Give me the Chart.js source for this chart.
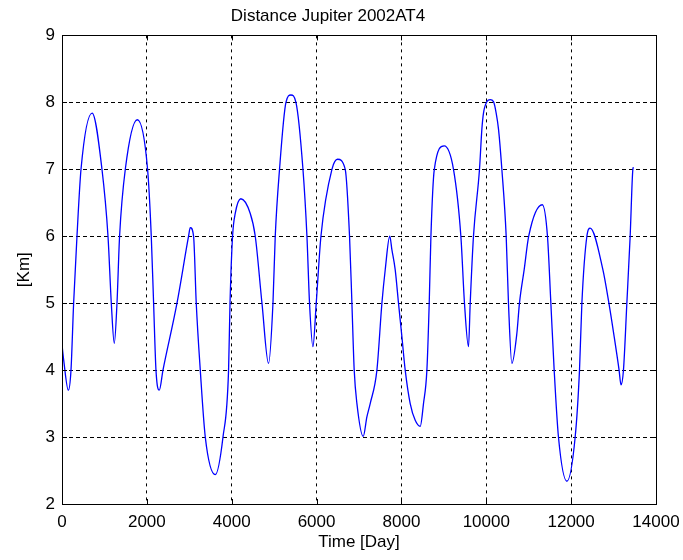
<!DOCTYPE html>
<html>
<head>
<meta charset="utf-8">
<script src="https://cdn.jsdelivr.net/npm/chart.js@4"></script>
<style>
  html, body { margin: 0; padding: 0; background: #fff; }
  #wrap { width: 683px; height: 560px; }
</style>
</head>
<body>
<div id="wrap"><canvas id="dist" width="683" height="560"></canvas></div>
<script>
// Distance samples: time in days, distance in the plotted unit
const days = [
  0, 40, 150, 212, 274, 353, 448, 710, 942, 1084, 1162, 1232,
  1296, 1357, 1492, 1775, 2017, 2104, 2159, 2215, 2292,
  2380, 2710, 2983, 3023, 3101, 3164, 3259, 3377, 3612,
  3794, 3926, 3960, 4020, 4083, 4215, 4437, 4555, 4713, 4868,
  4972, 5026, 5127, 5278, 5396, 5514, 5679, 5773, 5834, 5914,
  5992, 6103, 6362, 6494, 6675, 6777, 6833, 6887, 6951, 7100,
  7186, 7264, 7422, 7540, 7618, 7725, 7775, 7853, 7931, 8011, 8089, 8207, 8325, 8443,
  8520, 8600, 8655, 8695, 8775, 9008, 9227, 9401, 9486, 9581,
  9621, 9698, 9840, 9896, 9934, 10014, 10092, 10170, 10233, 10288, 10367, 10469, 10523, 10603,
  10721, 10782, 10893, 11000, 11320, 11442, 11522, 11600, 11701, 11900,
  12095, 12197, 12253, 12371, 12448, 12748, 12890, 13014, 13130, 13175,
  13233, 13313, 13391, 13455, 13469
];
const km = [
  4.38, 4.15, 3.7, 4.0, 5.0, 6.0, 7.0, 7.84, 7.0, 6.0, 5.0, 4.4,
  5.0, 6.0, 7.0, 7.74, 7.0, 6.0, 5.0, 4.0, 3.7,
  4.0, 5.0, 6.0, 6.13, 6.0, 5.0, 4.0, 3.0, 2.44,
  3.0, 4.0, 5.0, 6.0, 6.34, 6.56, 6.34, 6.0, 5.0, 4.1,
  5.0, 6.0, 7.0, 8.0, 8.11, 8.0, 7.0, 6.0, 5.0, 4.35,
  5.0, 6.0, 7.0, 7.15, 7.0, 6.0, 5.0, 4.0, 3.5, 3.01,
  3.3, 3.5, 4.0, 5.0, 5.5, 6.0, 5.8, 5.5, 5.0, 4.5, 4.0, 3.5, 3.25, 3.16,
  3.5, 4.0, 5.0, 6.0, 7.0, 7.35, 7.0, 6.0, 5.0, 4.35,
  5.0, 6.0, 7.0, 7.6, 7.84, 8.01, 8.04, 8.01, 7.84, 7.6, 7.0, 6.0, 5.0, 4.1,
  4.55, 5.0, 5.5, 6.0, 6.47, 6.0, 5.0, 4.0, 3.0, 2.34,
  3.0, 4.0, 5.0, 6.0, 6.12, 5.5, 5.0, 4.5, 4.0, 3.78,
  4.0, 5.0, 6.0, 7.0, 7.03
];

const xTicks = [0, 2000, 4000, 6000, 8000, 10000, 12000, 14000];
const yTicks = [2, 3, 4, 5, 6, 7, 8, 9];

const FONT = '"Liberation Sans", Arial, sans-serif';

// box around the axes plus short inward ticks on all four sides
const axesBox = {
  id: 'axesBox',
  afterDraw(chart) {
    const { ctx, chartArea: a, scales: { x, y } } = chart;
    const len = 5;
    ctx.save();
    ctx.strokeStyle = '#000';
    ctx.lineWidth = 1;
    ctx.setLineDash([]);
    ctx.beginPath();
    xTicks.forEach(v => {
      const px = Math.round(x.getPixelForValue(v)) + 0.5;
      ctx.moveTo(px, a.bottom); ctx.lineTo(px, a.bottom - len);
      ctx.moveTo(px, a.top); ctx.lineTo(px, a.top + len);
    });
    yTicks.forEach(v => {
      const py = Math.round(y.getPixelForValue(v)) + 0.5;
      ctx.moveTo(a.left, py); ctx.lineTo(a.left + len, py);
      ctx.moveTo(a.right, py); ctx.lineTo(a.right - len, py);
    });
    ctx.stroke();
    ctx.strokeRect(Math.round(a.left) + 0.5, Math.round(a.top) + 0.5,
      Math.round(a.right - a.left), Math.round(a.bottom - a.top));
    ctx.restore();
  }
};

new Chart(document.getElementById('dist'), {
  type: 'line',
  data: {
    datasets: [{
      data: days.map((d, i) => ({ x: d, y: km[i] })),
      borderColor: '#0000ff',
      borderWidth: 1.3,
      pointRadius: 0,
      fill: false,
      cubicInterpolationMode: 'monotone'
    }]
  },
  options: {
    responsive: false,
    animation: false,
    layout: { padding: { left: 0, right: 27, top: 0, bottom: 0 } },
    plugins: {
      legend: { display: false },
      tooltip: { enabled: false },
      title: {
        display: true,
        text: 'Distance Jupiter 2002AT4',
        color: '#000',
        font: { family: FONT, size: 17, weight: 'normal' },
        padding: { top: 6, bottom: 9 }
      }
    },
    scales: {
      x: {
        type: 'linear',
        min: 0,
        max: 14000,
        afterFit: s => { s.height = 56; s.paddingLeft = 0; s.paddingRight = 0; },
        afterBuildTicks: s => { s.ticks = xTicks.map(v => ({ value: v })); },
        ticks: {
          color: '#000',
          font: { family: FONT, size: 17 },
          padding: 8,
          maxRotation: 0,
          callback: v => String(v)
        },
        grid: { color: '#000', lineWidth: 1, drawTicks: false },
        border: { display: false, dash: [3, 4] },
        title: {
          display: true,
          text: 'Time [Day]',
          color: '#000',
          font: { family: FONT, size: 17 },
          padding: { top: 0, bottom: 7 }
        }
      },
      y: {
        min: 2,
        max: 9,
        afterFit: s => { s.width = 62; s.paddingTop = 0; s.paddingBottom = 0; },
        afterBuildTicks: s => { s.ticks = yTicks.map(v => ({ value: v })); },
        ticks: {
          color: '#000',
          font: { family: FONT, size: 17 },
          padding: 7
        },
        grid: { color: '#000', lineWidth: 1, drawTicks: false },
        border: { display: false, dash: [4, 3] },
        title: {
          display: true,
          text: '[Km]',
          color: '#000',
          font: { family: FONT, size: 17 },
          padding: { top: 14, bottom: 0 }
        }
      }
    }
  },
  plugins: [axesBox]
});
</script>
</body>
</html>
